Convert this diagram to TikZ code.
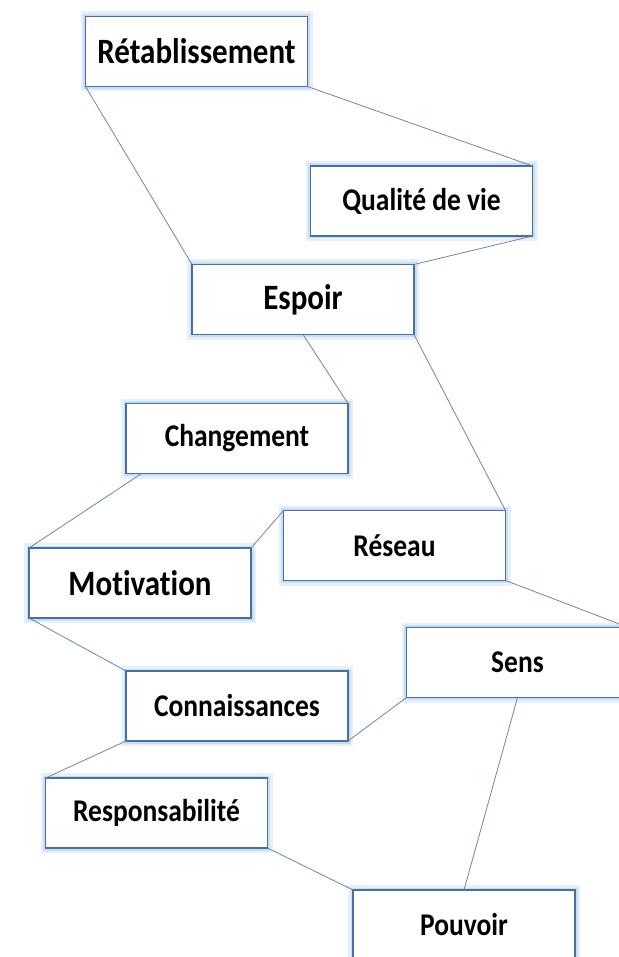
\documentclass[tikz,border=0pt]{standalone}
\usepackage{graphicx}
\usepackage{fontspec}
\setmainfont{Carlito}[Ligatures=NoCommon]
\usetikzlibrary{calc}
\definecolor{boxline}{HTML}{4A6E9E}
\definecolor{glowA}{HTML}{E6F0FA}
\definecolor{glowB}{HTML}{C9DEF3}
\definecolor{wire}{HTML}{6F86A6}
\newcommand{\tallword}[1]{\scalebox{1}[1.15]{#1}}
\tikzset{
  concept/.style={draw=boxline, line width=1.1pt, fill=white,
    preaction={draw=glowA, line width=10pt},
    preaction={draw=glowB, line width=5pt},
    minimum width=222pt, minimum height=70pt, inner sep=0pt, outer sep=0pt,
    font=\bfseries\fontsize{27.5}{32}\selectfont},
  bigtext/.style={font=\bfseries\fontsize{31}{36}\selectfont},
  wireline/.style={draw=wire, line width=0.8pt}
}
\begin{document}
\begin{tikzpicture}[x=1pt, y=-1pt]
\useasboundingbox (0,0) rectangle (618,957);
\fill[white] (0,0) rectangle (618,957);
\node[concept, bigtext] (ret) at (196.5,51.5) {\tallword{Rétablissement}};
\node[concept] (qual) at (421.5,201) {\tallword{Qualité de vie}};
\node[concept, bigtext] (esp) at (303,299.5) {\tallword{Espoir}};
\node[concept] (chg) at (237,438.5) {\tallword{Changement}};
\node[concept] (res) at (394.5,545.5) {\tallword{Réseau}};
\node[concept, bigtext] (mot) at (140,583) {\tallword{Motivation}};
\node[concept] (sens) at (517.5,662.5) {\tallword{Sens}};
\node[concept] (conn) at (237,706) {\tallword{Connaissances}};
\node[concept] (resp) at (156.5,813) {\tallword{Responsabilité}};
\node[concept] (pouv) at (464,925) {\tallword{Pouvoir}};
\coordinate (chgfoot) at ($(chg.south west)!0.07!(chg.south east)$);
\draw[wireline] (ret.south west) -- (esp.north west);
\draw[wireline] (ret.south east) -- (qual.north east);
\draw[wireline] (qual.south east) -- (esp.north east);
\draw[wireline] (esp.south) -- (chg.north east);
\draw[wireline] (esp.south east) -- (res.north east);
\draw[wireline] (chgfoot) -- (mot.north west);
\draw[wireline] (mot.north east) -- (res.north west);
\draw[wireline] (mot.south west) -- (conn.north west);
\draw[wireline] (res.south east) -- (sens.north east);
\draw[wireline] (sens.south west) -- (conn.south east);
\draw[wireline] (sens.south) -- (pouv.north);
\draw[wireline] (conn.south west) -- (resp.north west);
\draw[wireline] (resp.south east) -- (pouv.north west);
\end{tikzpicture}
\end{document}
